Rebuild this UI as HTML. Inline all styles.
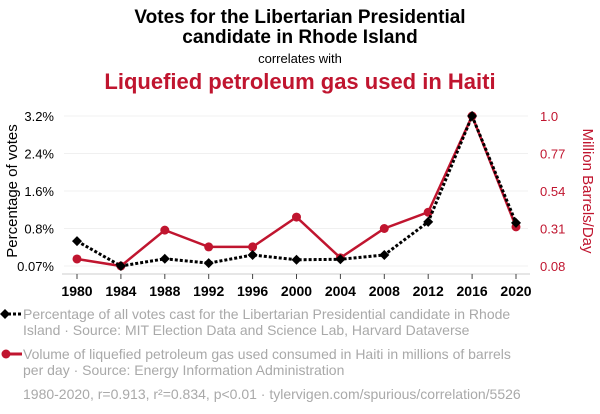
<!DOCTYPE html>
<html><head><meta charset="utf-8"><style>
body{margin:0;width:600px;height:414px;background:#fff;overflow:hidden;font-family:"Liberation Sans",Arial,sans-serif}
svg{position:absolute;left:0;top:0}
.leg{position:absolute;left:23px;color:#a9a9a9;font-size:14px;line-height:16px;white-space:nowrap}
</style></head><body>
<svg width="600" height="414" id="c">
<text x="300" y="23" text-anchor="middle" font-size="19" font-weight="bold">Votes for the Libertarian Presidential</text>
<text x="300" y="43" text-anchor="middle" font-size="19" font-weight="bold">candidate in Rhode Island</text>
<text x="300" y="63" text-anchor="middle" font-size="13">correlates with</text>
<text x="300" y="89" text-anchor="middle" font-size="22" font-weight="bold" fill="#c0152f">Liquefied petroleum gas used in Haiti</text>
<text transform="translate(17,191) rotate(-90)" text-anchor="middle" font-size="15">Percentage of votes</text>
<text transform="translate(583,191) rotate(90)" text-anchor="middle" font-size="15" fill="#c0152f">Million Barrels/Day</text>
<line x1="62" y1="274" x2="530" y2="274" stroke="#ccc"/>
<g id="g"></g>
</svg>
<div class="leg" style="top:306px">Percentage of all votes cast for the Libertarian Presidential candidate in Rhode<br>Island · Source: MIT Election Data and Science Lab, Harvard Dataverse</div>
<div class="leg" style="top:346px">Volume of liquefied petroleum gas used consumed in Haiti in millions of barrels<br>per day · Source: Energy Information Administration</div>
<div class="leg" style="top:386px">1980-2020, r=0.913, r²=0.834, p&lt;0.01 · tylervigen.com/spurious/correlation/5526</div>
<svg width="600" height="414" style="pointer-events:none">
<line x1="3" y1="314" x2="22" y2="314" stroke="#000" stroke-width="3" stroke-dasharray="3,2"/>
<path d="M5 309 L10 314 L5 319 L0 314Z" fill="#000"/>
<line x1="3" y1="354" x2="22" y2="354" stroke="#c0152f" stroke-width="3"/>
<circle cx="6" cy="354" r="4.5" fill="#c0152f"/>
</svg>
<script>
const years=[1980,1984,1988,1992,1996,2000,2004,2008,2012,2016,2020];
const votes=[0.59,0.07,0.22,0.13,0.30,0.20,0.21,0.30,0.99,3.2,0.97];
const lpg=[0.123,0.08,0.30,0.197,0.197,0.38,0.13,0.31,0.41,1.0,0.32];
const leftTicks=[0.07,0.8,1.6,2.4,3.2];
const leftLabels=["0.07%","0.8%","1.6%","2.4%","3.2%"];
const rightTicks=[0.08,0.31,0.54,0.77,1.0];
const rightLabels=["0.08","0.31","0.54","0.77","1.0"];
const NS="http://www.w3.org/2000/svg",g=document.getElementById('g');
const x=v=>77+(v-1980)/40*439;
const yl=v=>266-(v-0.07)/3.13*150;
const yr=v=>266-(v-0.08)/0.92*150;
function mk(t,a){const e=document.createElementNS(NS,t);for(const k in a)e.setAttribute(k,a[k]);g.appendChild(e);return e;}
leftTicks.forEach((t,i)=>{const yy=266-i*37.5;
 let l=mk('line',{x1:64,x2:528,y1:yy,y2:yy,stroke:'#f0f0f0'});
 
 
 let tx=mk('text',{x:54,y:yy+5,'text-anchor':'end','font-size':13});tx.textContent=leftLabels[i];
 
 
});
rightTicks.forEach((t,i)=>{
 let tx=mk('text',{x:540,y:yr(t)+5,'font-size':13,fill:'#c0152f'});tx.textContent=rightLabels[i];
 
 
});
years.forEach(yv=>{
 let l=mk('line',{x1:x(yv),x2:x(yv),y1:274,y2:279,stroke:'#444'});
 
 
 let tx=mk('text',{x:x(yv),y:296,'text-anchor':'middle','font-size':14,'font-weight':'bold'});tx.textContent=yv;
 
 
});
let p1=mk('polyline',{points:years.map((yv,i)=>x(yv)+','+yr(lpg[i])).join(' '),fill:'none',stroke:'#c0152f','stroke-width':2.5});


years.forEach((yv,i)=>{let c=mk('circle',{cx:x(yv),cy:yr(lpg[i]),r:4.5,fill:'#c0152f'});
 
 });
let p2=mk('polyline',{points:years.map((yv,i)=>x(yv)+','+yl(votes[i])).join(' '),fill:'none',stroke:'#000','stroke-width':3,'stroke-dasharray':'3,2'});


years.forEach((yv,i)=>{const cx=x(yv),cy=yl(votes[i]);
 let d=mk('path',{d:`M${cx} ${cy-5}L${cx+5} ${cy}L${cx} ${cy+5}L${cx-5} ${cy}Z`,fill:'#000'});
 
 });
</script>
</body></html>
